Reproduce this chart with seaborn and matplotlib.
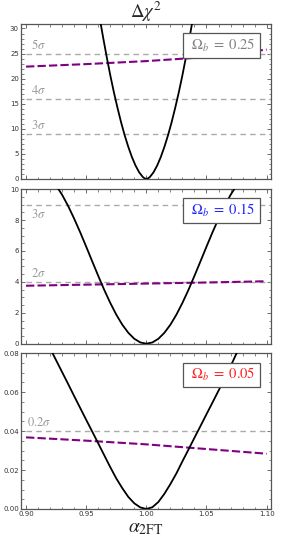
import matplotlib
matplotlib.use('Agg')
import matplotlib.pyplot as plt
from matplotlib.ticker import MultipleLocator, FormatStrFormatter
import seaborn as sns

# -------------------------
# Data
# -------------------------
alpha_p1 = [0.961, 0.964, 0.967, 0.970, 0.973, 0.976, 0.979, 0.982, 0.985, 0.988, 0.991, 0.994, 0.997, 0.9985,
            1.000,
            1.0015, 1.003, 1.006, 1.009, 1.012, 1.015, 1.018, 1.021, 1.024, 1.027, 1.030, 1.033, 1.036, 1.039]
chi2_p1 = [32.4, 28.3, 24.4, 20.7, 17.3, 14.2, 11.3, 8.7, 6.4, 4.37, 2.68, 1.34, 0.41, 0.13,
           0.0,
           0.13, 0.41, 1.34, 2.68, 4.37, 6.4, 8.7, 11.3, 14.2, 17.3, 20.7, 24.4, 28.3, 32.4]

alpha_p2 = [0.925, 0.930, 0.935, 0.940, 0.945, 0.950, 0.955, 0.960, 0.965, 0.970, 0.975, 0.980, 0.985, 0.990, 0.995,
            1.000,
            1.005, 1.010, 1.015, 1.020, 1.025, 1.030, 1.035, 1.040, 1.045, 1.050, 1.055, 1.060, 1.065, 1.070, 1.075]
chi2_p2 = [10.24, 9.63, 8.91, 8.09, 7.21, 6.28, 5.33, 4.39, 3.48, 2.64, 1.88, 1.23, 0.705, 0.317, 0.080,
           0.0,
           0.080, 0.317, 0.705, 1.23, 1.88, 2.64, 3.48, 4.39, 5.33, 6.28, 7.21, 8.09, 8.91, 9.63, 10.24]

alpha_p3 = [0.920, 0.925, 0.930, 0.935, 0.940, 0.945, 0.950, 0.955, 0.960, 0.965, 0.970, 0.975, 0.980, 0.985, 0.990, 0.995,
            1.000,
            1.005, 1.010, 1.015, 1.020, 1.025, 1.030, 1.035, 1.040, 1.045, 1.050, 1.055, 1.060, 1.065, 1.070, 1.075, 1.080]
chi2_p3 = [0.0825, 0.0764, 0.0703, 0.0642, 0.0580, 0.0519, 0.0458, 0.0398, 0.0337, 0.0276, 0.0215, 0.0157, 0.0107,
           0.0062, 0.0029, 0.0008,
           0.0,
           0.0009, 0.0036, 0.0078, 0.0128, 0.0183, 0.0245, 0.0305, 0.0366, 0.0426, 0.0487, 0.0547, 0.0608, 0.0668,
           0.0733, 0.0800, 0.0865]

alpha_flat = [0.90, 0.95, 1.00, 1.05, 1.10]
flat_p1 = [22.4, 22.9, 23.5, 24.3, 25.8]
flat_p2 = [3.75, 3.82, 3.89, 3.96, 4.04]
flat_p3 = [0.0368, 0.0351, 0.0332, 0.0308, 0.0284]

sigma_p1 = [9, 16, 25]
sigma_lab_p1 = [r'$3\sigma$', r'$4\sigma$', r'$5\sigma$']
sigma_p2 = [4, 9]
sigma_lab_p2 = [r'$2\sigma$', r'$3\sigma$']
sigma_p3 = [0.04]
sigma_lab_p3 = [r'$0.2\sigma$']

omega_labels = [r' $\Omega_b\;=\;0.25$ ', r' $\Omega_b\;=\;0.15$ ', r' $\Omega_b\;=\;0.05$ ']

# -------------------------
# Style
# -------------------------
sns.set_theme(style='ticks')
plt.rcParams['font.family'] = ['DejaVu Sans']
plt.rcParams['mathtext.fontset'] = 'stix'

XLIM = (0.8958, 1.1036)
FRAME = '#555555'
PURPLE = '#800080'
GRAY = '#aaaaaa'

fig = plt.figure(figsize=(2.90, 5.45), dpi=100)
W = 0.862
ax1 = fig.add_axes([0.0724, 0.6716, W, 0.2844])
ax2 = fig.add_axes([0.0724, 0.3694, W, 0.2835])
ax3 = fig.add_axes([0.0724, 0.0661, W, 0.2857])

panels = [
    (ax1, alpha_p1, chi2_p1, flat_p1, sigma_p1, sigma_lab_p1, (0, 30.9), 5, 1, '%d', '#808080'),
    (ax2, alpha_p2, chi2_p2, flat_p2, sigma_p2, sigma_lab_p2, (0, 10), 2, 0.5, '%d', '#2222ff'),
    (ax3, alpha_p3, chi2_p3, flat_p3, sigma_p3, sigma_lab_p3, (0, 0.08), 0.02, 0.005, '%.2f', '#ff2020'),
]

for i, (ax, ax_a, ax_c, flat, sig, sig_lab, ylim, major, minor, fmt, tcol) in enumerate(panels):
    # lineas de referencia n-sigma
    ax.hlines(sig, 0.9, XLIM[1], colors=GRAY, linestyles=(0, (4, 3)), linewidth=1.0, zorder=1)
    span = ylim[1] - ylim[0]
    for y, lab in zip(sig, sig_lab):
        below = (y / span) > 0.85
        ax.text(0.9045 if i < 2 else 0.9005, y + (-0.02 * span if below else 0.012 * span), lab,
                color='#999999', fontsize=9, va='top' if below else 'bottom', ha='left')

    sns.lineplot(x=alpha_flat, y=flat, ax=ax, color=PURPLE, linewidth=1.5,
                 linestyle=(0, (4, 1.5)), errorbar=None, zorder=2)
    sns.lineplot(x=ax_a, y=ax_c, ax=ax, color='black', linewidth=1.3,
                 errorbar=None, zorder=3)

    ax.set_xlim(*XLIM)
    ax.set_ylim(*ylim)
    ax.xaxis.set_major_locator(MultipleLocator(0.05))
    ax.xaxis.set_minor_locator(MultipleLocator(0.01))
    ax.yaxis.set_major_locator(MultipleLocator(major))
    ax.yaxis.set_minor_locator(MultipleLocator(minor))
    ax.yaxis.set_major_formatter(FormatStrFormatter(fmt))
    ax.xaxis.set_major_formatter(FormatStrFormatter('%.2f'))
    ax.tick_params(which='both', direction='in', top=True, right=True,
                   color=FRAME, labelsize=5, labelcolor='#333333', pad=1.5)
    ax.tick_params(which='major', length=3.2, width=0.6)
    ax.tick_params(which='minor', length=1.8, width=0.5)
    for s in ax.spines.values():
        s.set_color(FRAME)
        s.set_linewidth(0.9)
    ax.set_xlabel('')
    ax.set_ylabel('')
    if i < 2:
        ax.tick_params(labelbottom=False)

    ax.text(0.802, 0.862, omega_labels[i], transform=ax.transAxes, color=tcol,
            fontsize=10.5, ha='center', va='center', zorder=5,
            bbox=dict(boxstyle='square,pad=0.25', fc='white', ec=FRAME, lw=0.9))

ax1.set_title(r'$\Delta\chi^2$', fontsize=13.5, pad=2)
ax3.set_xlabel(r'$\alpha_{\mathrm{2FT}}$', fontsize=14, labelpad=1)

plt.savefig('out.png', dpi=100)
plt.close()
